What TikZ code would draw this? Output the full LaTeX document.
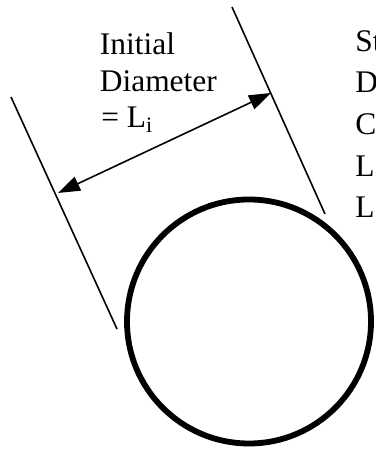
\documentclass[tikz,border=0pt]{standalone}
\usepackage{fontspec}
\setmainfont{Liberation Serif}
\usetikzlibrary{arrows.meta}

\begin{document}
\begin{tikzpicture}[
        font=\fontsize{17.9}{20}\selectfont,
        wall/.style={draw=black, line width=0.9pt},
        span/.style={draw=black, line width=0.9pt, {Triangle[length=0.44cm, width=0.3cm]}-{Triangle[length=0.44cm, width=0.3cm]}},
        txt/.style={anchor=base west, inner sep=0pt},
    ]
    \clip (0, 0) rectangle (7.5, 8.98);

    %====================== GUIDE LINES ======================
    \coordinate (l-top) at (0.22, 7.04);
    \coordinate (l-bot) at (2.34, 2.40);
    \coordinate (r-top) at (4.64, 8.84);
    \coordinate (r-bot) at (6.50, 4.70);
    \coordinate (l-hit) at (1.16, 5.12);
    \coordinate (r-hit) at (5.42, 7.12);

    \draw[wall] (l-top) -- (l-bot);
    \draw[wall] (r-top) -- (r-bot);
    \draw[span] (l-hit) -- (r-hit);

    %====================== PARTICLE ======================
    \node[draw=black, line width=3.3pt, circle, minimum size=4.88cm, inner sep=0pt] (particle) at (4.98, 2.55) {};

    %====================== LABELS ======================
    \node[txt] (lbl-initial)  at (1.99, 7.88) {Initial};
    \node[txt] (lbl-diameter) at (1.99, 7.15) {Diameter};
    \node[txt] (lbl-li)       at (2.02, 6.42) {= L\textsubscript{i}};

    \foreach \t/\y [count=\i] in {St/7.94, D/7.12, C/6.28, L/5.44, L/4.62} {
        \node[txt] (side-\i) at (7.10, \y) {\t};
    }

\end{tikzpicture}
\end{document}
